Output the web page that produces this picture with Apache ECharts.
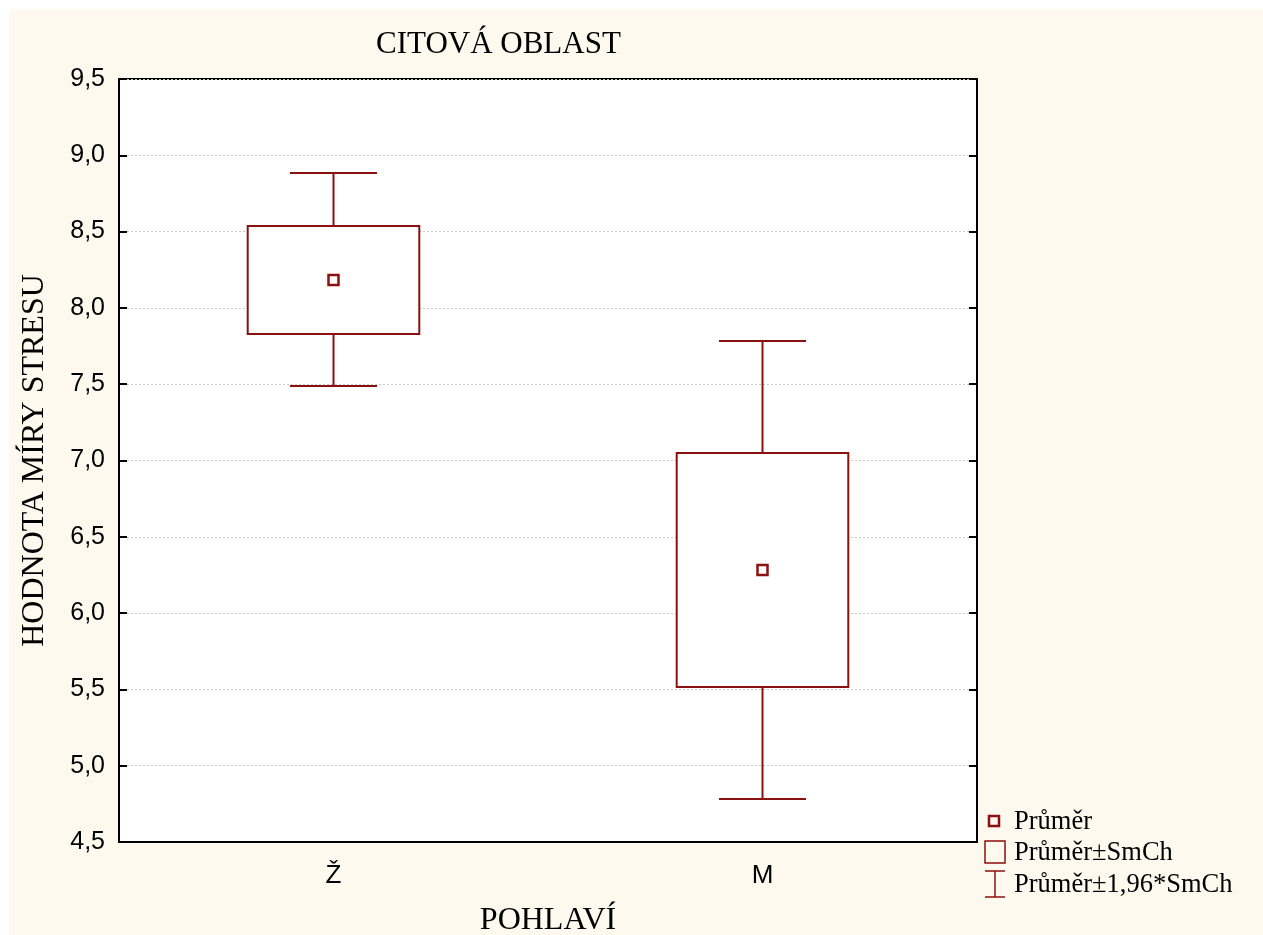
<!DOCTYPE html>
<html>
<head>
<meta charset="utf-8">
<script src="https://cdn.jsdelivr.net/npm/echarts@6/dist/echarts.min.js"></script>
<style>
html,body{margin:0;padding:0;background:#ffffff;}
#chart{position:absolute;left:9px;top:9px;width:1254px;height:926px;}
</style>
</head>
<body>
<div id="chart"></div>
<script>
// ---- data ----
const categories = ['Ž', 'M'];
const meanValues = [8.183, 6.282];
const seLow = [7.829, 5.516];
const seHigh = [8.537, 7.049];
const ciLow = [7.488, 4.782];
const ciHigh = [8.884, 7.783];
const yTickLabels = ['4,5','5,0','5,5','6,0','6,5','7,0','7,5','8,0','8,5','9,0','9,5'];
const legendNames = ['Průměr', 'Průměr±SmCh', 'Průměr±1,96*SmCh'];

const RED = '#8B1010';
const chart = echarts.init(document.getElementById('chart'));

const meanData = categories.map((c, i) => [i, meanValues[i]]);
const seData = categories.map((c, i) => [i, seLow[i], seHigh[i]]);
const ciData = categories.map((c, i) => [i, ciLow[i], ciHigh[i]]);

function tickLabel(v) {
  const idx = Math.round((v - 4.5) / 0.5);
  return yTickLabels[idx] !== undefined ? yTickLabels[idx] : '';
}

const axisFont = {fontFamily: 'Liberation Sans, Arial, sans-serif', fontSize: 25, color: '#000'};
const serif = 'Liberation Serif, Times New Roman, serif';

const option = {
  backgroundColor: '#fdf9ee',
  animation: false,
  title: {
    text: 'CITOVÁ OBLAST',
    left: 362, top: 15,
    textStyle: {fontFamily: serif, fontSize: 31, fontWeight: 'normal', color: '#000'}
  },
  grid: {
    left: 110, top: 70, right: 286, bottom: 93,
    containLabel: false, outerBoundsMode: 'none',
    show: true, backgroundColor: '#ffffff', borderColor: '#000', borderWidth: 2
  },
  xAxis: {
    type: 'category', data: categories,
    name: 'POHLAVÍ', nameLocation: 'middle', nameGap: 63,
    nameTextStyle: {fontFamily: serif, fontSize: 32, color: '#000'},
    axisLine: {lineStyle: {color: '#000', width: 2}},
    axisTick: {inside: true, alignWithLabel: true, length: 9, lineStyle: {color: '#000', width: 1.5}},
    axisLabel: Object.assign({margin: 21}, axisFont, {fontSize: 26}),
    splitLine: {show: false}
  },
  yAxis: [{
    type: 'value', min: 4.5, max: 9.5, interval: 0.5,
    name: 'HODNOTA MÍRY STRESU', nameLocation: 'middle', nameGap: 68, nameRotate: 90,
    nameTextStyle: {fontFamily: serif, fontSize: 32, color: '#000'},
    axisLine: {show: true, lineStyle: {color: '#000', width: 2}},
    axisTick: {show: true, inside: true, length: 8, lineStyle: {color: '#000', width: 2}},
    axisLabel: Object.assign({margin: 14, formatter: tickLabel, padding: [8, 0, 0, 0]}, axisFont),
    splitLine: {show: true, lineStyle: {color: '#c8c8c8', type: [2, 2], width: 1}}
  }, {
    type: 'value', min: 4.5, max: 9.5, interval: 0.5, position: 'right',
    axisLine: {show: true, lineStyle: {color: '#000', width: 2}},
    axisTick: {show: true, inside: true, length: 8, lineStyle: {color: '#000', width: 2}},
    axisLabel: {show: false},
    splitLine: {show: false}
  }],
  series: [{
    name: legendNames[2], type: 'custom', z: 2,
    data: ciData, encode: {x: 0, y: [1, 2]},
    renderItem: function (params, api) {
      const x = api.value(0);
      const lo = api.coord([x, api.value(1)]);
      const hi = api.coord([x, api.value(2)]);
      const band = api.size([1, 0])[0];
      const cap = band * 0.203 / 2;
      const st = {stroke: RED, lineWidth: 2};
      return {type: 'group', children: [
        {type: 'line', shape: {x1: lo[0], y1: lo[1], x2: hi[0], y2: hi[1]}, style: st},
        {type: 'line', shape: {x1: lo[0] - cap, y1: lo[1], x2: lo[0] + cap, y2: lo[1]}, style: st},
        {type: 'line', shape: {x1: hi[0] - cap, y1: hi[1], x2: hi[0] + cap, y2: hi[1]}, style: st}
      ]};
    }
  }, {
    name: legendNames[1], type: 'custom', z: 3,
    data: seData, encode: {x: 0, y: [1, 2]},
    renderItem: function (params, api) {
      const x = api.value(0);
      const lo = api.coord([x, api.value(1)]);
      const hi = api.coord([x, api.value(2)]);
      const band = api.size([1, 0])[0];
      const w = band * 0.40;
      return {type: 'rect', shape: {x: lo[0] - w / 2, y: hi[1], width: w, height: lo[1] - hi[1]},
        style: {fill: '#ffffff', stroke: RED, lineWidth: 2}};
    }
  }, {
    name: legendNames[0], type: 'custom', z: 4,
    data: meanData, encode: {x: 0, y: 1},
    renderItem: function (params, api) {
      const p = api.coord([api.value(0), api.value(1)]);
      return {type: 'rect', shape: {x: p[0] - 5, y: p[1] - 5, width: 10, height: 10},
        style: {fill: '#ffffff', stroke: RED, lineWidth: 2.5}};
    }
  }],
  graphic: [
    {type: 'rect', shape: {x: 980, y: 807, width: 10, height: 10}, style: {fill: 'none', stroke: RED, lineWidth: 2.5}},
    {type: 'rect', shape: {x: 976, y: 832, width: 20, height: 22}, style: {fill: 'none', stroke: RED, lineWidth: 1.5}},
    {type: 'line', shape: {x1: 986, y1: 862, x2: 986, y2: 888}, style: {stroke: RED, lineWidth: 1.5}},
    {type: 'line', shape: {x1: 976, y1: 862, x2: 996, y2: 862}, style: {stroke: RED, lineWidth: 1.5}},
    {type: 'line', shape: {x1: 976, y1: 888, x2: 996, y2: 888}, style: {stroke: RED, lineWidth: 1.5}},
    {type: 'text', x: 1005, y: 813, style: {text: legendNames[0], font: '26.5px ' + serif, fill: '#000', verticalAlign: 'middle'}},
    {type: 'text', x: 1005, y: 844, style: {text: legendNames[1], font: '26.5px ' + serif, fill: '#000', verticalAlign: 'middle'}},
    {type: 'text', x: 1005, y: 876, style: {text: legendNames[2], font: '26.5px ' + serif, fill: '#000', verticalAlign: 'middle'}}
  ]
};
chart.setOption(option);
</script>
</body>
</html>
